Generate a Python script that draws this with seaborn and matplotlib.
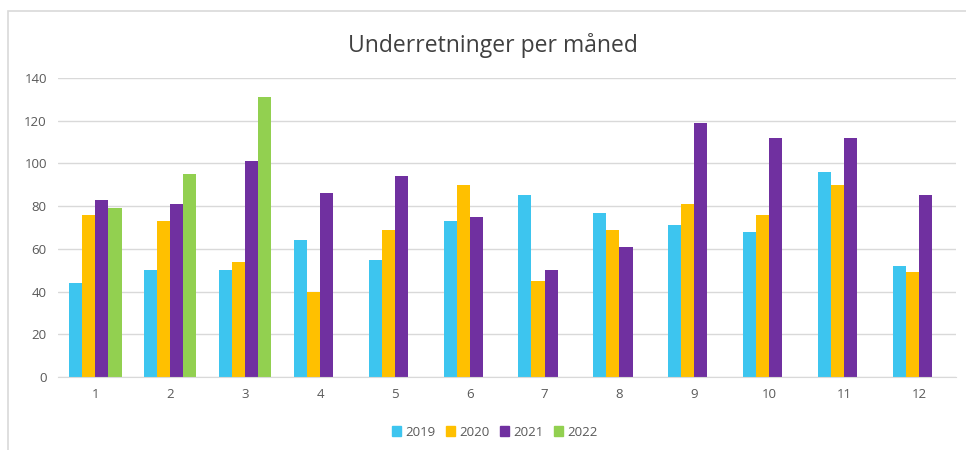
import numpy as np
import pandas as pd
import seaborn as sns
import matplotlib.pyplot as plt
from matplotlib.patches import Rectangle

# Data
months = [1, 2, 3, 4, 5, 6, 7, 8, 9, 10, 11, 12]
years = ["2019", "2020", "2021", "2022"]
v2019 = [44, 50, 50, 64, 55, 73, 85, 77, 71, 68, 96, 52]
v2020 = [76, 73, 54, 40, 69, 90, 45, 69, 81, 76, 90, 49]
v2021 = [83, 81, 101, 86, 94, 75, 50, 61, 119, 112, 112, 85]
v2022 = [79, 95, 131, np.nan, np.nan, np.nan, np.nan, np.nan, np.nan, np.nan, np.nan, np.nan]

colors = ["#3DC5EF", "#FFC000", "#7030A0", "#92D050"]

df = pd.DataFrame({"Måned": months, "2019": v2019, "2020": v2020,
                   "2021": v2021, "2022": v2022})
long = df.melt(id_vars="Måned", var_name="År", value_name="Antall")

sns.set_style("white")
plt.rcParams['font.family'] = ['Open Sans', 'DejaVu Sans']

fig = plt.figure(figsize=(9.66, 4.5), dpi=100)
ax = fig.add_axes([0.060, 0.162, 0.930, 0.665])

sns.barplot(data=long, x="Måned", y="Antall", hue="År", hue_order=years,
            palette=colors, width=0.7, saturation=1, linewidth=0,
            ax=ax, legend=True)

ax.set_ylim(0, 140)
ax.set_yticks(range(0, 141, 20))
ax.yaxis.grid(True, color="#D9D9D9", linewidth=1)
ax.set_axisbelow(True)
for s in ["top", "right", "left"]:
    ax.spines[s].set_visible(False)
ax.spines["bottom"].set_color("#D9D9D9")
ax.tick_params(axis="both", length=0, labelsize=9.5, colors="#595959", pad=8)
ax.set_xlabel("")
ax.set_ylabel("")

ax.get_legend().remove()
handles = [plt.Rectangle((0, 0), 1, 1, color=c) for c in colors]
fig.legend(handles, years, loc="center", bbox_to_anchor=(0.512, 0.04), ncol=4,
           frameon=False, fontsize=9.5, handlelength=0.7, handleheight=0.7,
           handletextpad=0.3, columnspacing=0.8, labelcolor="#595959")

fig.text(0.51, 0.9, "Underretninger per måned", ha="center", va="center",
         fontsize=16.5, color="#404040")

# light frame around the chart
fig.patches.append(Rectangle((8 / 966, -0.1), 1.1, 1 - 11 / 450 + 0.1,
                             transform=fig.transFigure, fill=False,
                             edgecolor="#D9D9D9", linewidth=1.2))

fig.savefig("out.png", dpi=100)
